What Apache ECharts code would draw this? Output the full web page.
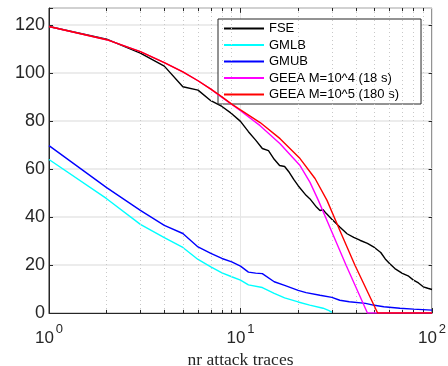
<!DOCTYPE html>
<html>
<head>
<meta charset="utf-8">
<script src="https://cdn.jsdelivr.net/npm/echarts@6/dist/echarts.min.js"></script>
<style>
  html, body { margin: 0; padding: 0; background: #fff; }
  #chart { width: 448px; height: 366px; }
</style>
</head>
<body>
<div id="chart"></div>
<script>
// values: x = nr attack traces, y = value
const fseN = [1, 2, 3, 4, 5, 6, 7, 8, 9, 10, 11, 12, 13, 14, 15, 16, 17, 18, 19, 20, 22, 23, 25, 26, 27, 28, 30, 33, 36, 39, 42, 46, 50, 54, 57, 60, 64, 70, 75, 80, 85, 90, 95, 100];
const fseV = [119.3, 114, 108.2, 102.8, 94.2, 92.8, 88.4, 86, 83, 79.8, 75.5, 72, 68.5, 67.6, 64, 61.4, 61, 58.5, 55.5, 53, 49, 47.6, 44, 42.7, 43, 41.5, 39, 35.8, 33, 31.5, 30.3, 29, 27.3, 25.2, 22.5, 20.6, 18.5, 16.5, 15.5, 13.7, 12.5, 10.9, 10.3, 9.8];

const gmlbN = [1, 2, 3, 4, 5, 6, 7, 8, 9, 10, 11, 13, 15, 17, 20, 23, 27, 29, 30];
const gmlbV = [63.9, 47.6, 36.9, 31.4, 27.3, 22.3, 19.2, 16.7, 15.1, 13.7, 11.7, 10.6, 8.2, 6.3, 4.6, 3.3, 2, 1, 0.3];

const gmubN = [1, 2, 3, 4, 5, 6, 7, 8, 9, 10, 11, 12, 13, 15, 17, 20, 22, 26, 30, 33, 37, 45, 50, 56, 68, 80, 100];
const gmubV = [69.7, 52.2, 42.7, 36.5, 33.1, 27.5, 24.8, 22.7, 21.3, 19.5, 17, 16.6, 16.4, 13, 11.5, 9.4, 8.5, 7.4, 6.5, 5.3, 4.7, 4, 3.2, 2.6, 2, 1.6, 1.2];

const geea4N = [1, 2, 3, 4, 5, 6, 7, 8, 9, 10, 12.66, 16.09, 20.46, 23.07, 25.5, 30.2, 35.6, 46, 100];
const geea4V = [119.3, 113.8, 108.8, 104.3, 100.4, 96.7, 93.2, 89.8, 86.8, 84.2, 78, 70.5, 61.4, 54.4, 46.9, 33.2, 19.9, 0, 0];

const geea5N = [1, 2, 3, 4, 5, 6, 7, 8, 9, 10, 12.66, 16.09, 20.46, 24.5, 28.3, 33.5, 39.6, 52, 100];
const geea5V = [119.3, 113.8, 108.8, 104.3, 100.4, 96.7, 93.2, 90, 87, 84.6, 79.3, 72.6, 64.3, 56, 46.9, 33.2, 19.9, 0, 0];

const names = ["FSE", "GMLB", "GMUB", "GEEA M=10^4 (18 s)", "GEEA M=10^5 (180 s)"];
const colors = ["#000000", "#00ffff", "#0000ff", "#ff00ff", "#ff0000"];
const xMinor = [2, 3, 4, 5, 6, 7, 8, 9, 20, 30, 40, 50, 60, 70, 80, 90];
const yTicks = [20, 40, 60, 80, 100, 120];
const yMax = 127;

const zip = (xs, ys) => xs.map((x, i) => [x, ys[i]]);
const seriesData = [
  zip(fseN, fseV),
  zip(gmlbN, gmlbV),
  zip(gmubN, gmubV),
  zip(geea4N, geea4V),
  zip(geea5N, geea5V),
];

const axisColor = "#262626";
const font = "Liberation Sans";

// minor tick marks on bottom / top edge, major ticks on top / right edge
const tickSegs = [];
xMinor.forEach((x) => {
  tickSegs.push([{ coord: [x, 0] }, { coord: [x, 1.3] }]);
  tickSegs.push([{ coord: [x, yMax] }, { coord: [x, yMax - 1.3] }]);
});
tickSegs.push([{ coord: [10, yMax] }, { coord: [10, yMax - 2] }]);
yTicks.forEach((y) => {
  tickSegs.push([{ coord: [100, y] }, { coord: [96, y] }]);
});

var myChart = echarts.init(document.getElementById("chart"), null, { renderer: "canvas" });
myChart.setOption({
  animation: false,
  backgroundColor: "#fff",
  color: colors,
  grid: {
    left: 49,
    right: 16,
    top: 8,
    bottom: 53,
    outerBoundsMode: "none",
    containLabel: false,
    show: true,
    borderColor: axisColor,
    borderWidth: 1,
  },
  legend: {
    data: names,
    orient: "vertical",
    left: 218,
    top: 19,
    padding: [3, 22, 3, 5],
    itemWidth: 40,
    itemHeight: 14,
    itemGap: 3.5,
    backgroundColor: "#fff",
    borderColor: axisColor,
    borderWidth: 1,
    borderRadius: 0,
    textStyle: { color: "#000", fontSize: 13, fontFamily: font },
    lineStyle: { width: 2 },
    itemStyle: { color: "transparent", borderColor: "transparent", borderWidth: 0, opacity: 0 },
  },
  xAxis: {
    type: "log",
    logBase: 10,
    min: 1,
    max: 100,
    name: "nr attack traces",
    nameLocation: "middle",
    nameGap: 25,
    nameTextStyle: { fontFamily: "Liberation Serif", fontSize: 17.5, color: axisColor },
    axisLine: { show: true, lineStyle: { color: axisColor, width: 1 } },
    axisTick: { show: true, inside: true, length: 5, lineStyle: { color: axisColor } },
    splitLine: { show: true, lineStyle: { color: "#e6e6e6", width: 1 } },
    axisLabel: {
      margin: 10,
      formatter: (v) => "{b|10}{s|" + Math.round(Math.log10(v)) + "}",
      rich: {
        b: { fontSize: 17, fontFamily: font, color: axisColor, lineHeight: 24, verticalAlign: "bottom" },
        s: { fontSize: 13, fontFamily: font, color: axisColor, lineHeight: 13, verticalAlign: "top", padding: [0, 0, 0, 2] },
      },
    },
  },
  yAxis: {
    type: "value",
    min: 0,
    max: yMax,
    interval: 20,
    axisLine: { show: true, lineStyle: { color: axisColor, width: 1 } },
    axisTick: { show: true, inside: true, length: 4, lineStyle: { color: axisColor } },
    splitLine: { show: true, lineStyle: { color: "#e6e6e6", width: 1.5 } },
    axisLabel: {
      margin: 4,
      fontSize: 18,
      fontFamily: font,
      color: axisColor,
      formatter: (v) => (v % 20 === 0 ? String(v) : ""),
    },
  },
  series: [
    {
      type: "line",
      data: [],
      silent: true,
      markLine: {
        silent: true,
        symbol: "none",
        animation: false,
        label: { show: false },
        lineStyle: { color: "#c8c8c8", type: [1, 3], width: 1 },
        data: xMinor.map((x) => ({ xAxis: x })),
      },
    },
    {
      type: "line",
      data: [],
      silent: true,
      markLine: {
        silent: true,
        symbol: "none",
        animation: false,
        label: { show: false },
        lineStyle: { color: axisColor, type: "solid", width: 1 },
        data: tickSegs,
      },
    },
    ...names.map((name, i) => ({
      name: name,
      type: "line",
      data: seriesData[i],
      symbol: "none",
      lineStyle: { width: 1.4, color: colors[i] },
      itemStyle: { color: colors[i] },
      z: 3 + i,
    })),
  ],
});
</script>
</body>
</html>
